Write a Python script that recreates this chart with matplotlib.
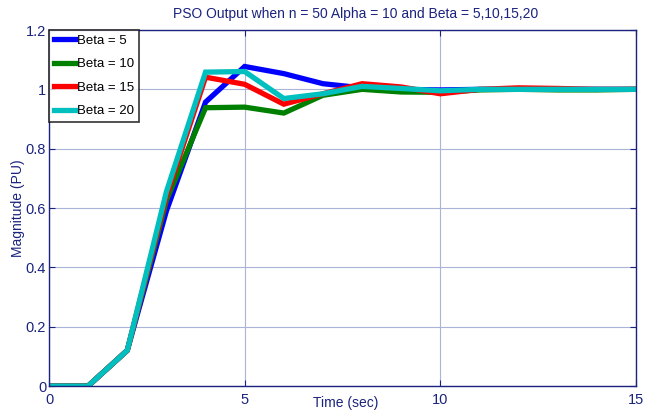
import matplotlib
matplotlib.use("Agg")
import matplotlib.pyplot as plt

time = list(range(16))
beta5 = [0, 0, 0.12, 0.59, 0.957, 1.077, 1.053, 1.019, 1.005, 1.0, 0.998, 1.0, 1.0, 1.0, 1.0, 1.0]
beta10 = [0, 0, 0.12, 0.625, 0.938, 0.94, 0.92, 0.98, 1.0, 0.991, 0.99, 0.998, 1.0, 0.998, 0.998, 1.0]
beta15 = [0, 0, 0.12, 0.64, 1.041, 1.017, 0.95, 0.985, 1.019, 1.008, 0.985, 1.0, 1.005, 1.003, 1.0, 1.0]
beta20 = [0, 0, 0.12, 0.655, 1.058, 1.06, 0.969, 0.985, 1.01, 1.003, 0.995, 1.0, 1.0, 1.0, 1.0, 1.0]
labels = ["Beta = 5", "Beta = 10", "Beta = 15", "Beta = 20"]
colors = ["#0000ff", "#008000", "#ff0000", "#00bfbf"]

plt.rcParams['font.family'] = ['Liberation Sans', 'DejaVu Sans']

navy = "#1a237e"
W, H = 654, 412
fig = plt.figure(figsize=(W/100, H/100), dpi=100)
ax = fig.add_axes([49/W, 1-386/H, (636-49)/W, (386-30)/H])

for y, lab, c in zip([beta5, beta10, beta15, beta20], labels, colors):
    ax.plot(time, y, color=c, lw=3.8, label=lab, solid_joinstyle='miter')

ax.set_xlim(0, 15)
ax.set_ylim(0, 1.2)
ax.set_xticks([0, 5, 10, 15])
ax.set_yticks([0, 0.2, 0.4, 0.6, 0.8, 1.0, 1.2])
ax.set_yticklabels(["0", "0.2", "0.4", "0.6", "0.8", "1", "1.2"])
ax.grid(True, color="#aab4d6", lw=0.8)
ax.set_axisbelow(True)
for s in ax.spines.values():
    s.set_color(navy)
    s.set_linewidth(1.0)
ax.tick_params(direction='in', colors=navy, labelsize=10.5, length=4, top=True, right=True)
ax.tick_params(axis='x', pad=5)
ax.tick_params(axis='y', pad=2)
ax.set_xlabel("Time (sec)", color=navy, fontsize=10)
ax.xaxis.set_label_coords((346-49)/(636-49), -(403-386)/(386-30))
ax.xaxis.label.set_va('center')
ax.set_ylabel("Magnitude (PU)", color=navy, fontsize=10)
ax.yaxis.set_label_coords(-(49-18)/(636-49), 0.5)
ax.yaxis.label.set_va('center')
fig.text(356/W, 1-14/H, "PSO Output when n = 50 Alpha = 10 and Beta = 5,10,15,20",
         color=navy, fontsize=10, ha='center', va='center')

leg = ax.legend(loc='upper left', fontsize=9.5, frameon=True, fancybox=False,
                edgecolor='black', handlelength=1.6, borderaxespad=0.0,
                labelspacing=0.85, handletextpad=0.2, borderpad=0.35)
leg.get_frame().set_linewidth(1.2)
for t in leg.get_texts():
    t.set_color('black')

fig.savefig("out.png", dpi=100)
